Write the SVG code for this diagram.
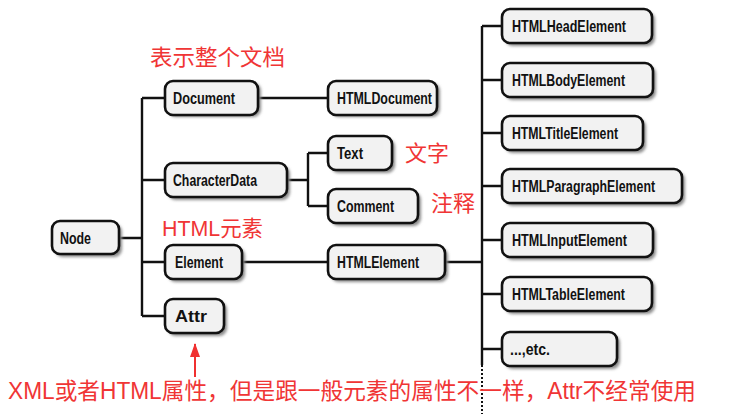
<svg xmlns="http://www.w3.org/2000/svg" width="738" height="414" viewBox="0 0 738 414">
<defs>
<filter id="sh" x="-20%" y="-30%" width="150%" height="180%">
<feGaussianBlur stdDeviation="1.5"/>
</filter>
<marker id="ah" markerWidth="14" markerHeight="10" refX="13" refY="5" orient="auto" markerUnits="userSpaceOnUse" viewBox="0 0 14 10">
<path d="M0,0 L14,5 L0,10 Z" fill="#f03030"/>
</marker>
<style>
.shadow{fill:#8a8a8a;filter:url(#sh);}
.box{fill:#f2f2f2;stroke:#111;stroke-width:2.6;}
.lbl{font-family:"Liberation Sans","DejaVu Sans",sans-serif;font-weight:bold;font-size:16px;fill:#111;}
.con{stroke:#111;stroke-width:2.4;fill:none;}
.red{font-family:"Liberation Sans","Noto Sans CJK SC",sans-serif;fill:#f03535;}
</style>
</defs>
<g id="connectors">
<path class="con" d="M120,238 H142 M142,98 V316 M142,98 H165 M142,180 H165 M142,262 H165 M142,316 H165"/>
<path class="con" d="M258,98 H328"/>
<path class="con" d="M287,180 H308 M308,153 V206 M308,153 H328 M308,206 H328"/>
<path class="con" d="M242,262 H328 M445,262 H482"/>
<path class="con" d="M482,26 V365 M482,26 H502 M482,80 H502 M482,133 H502 M482,186 H502 M482,240 H502 M482,294 H502 M482,349 H502"/>
<path d="M482,365 V414" stroke="#111" stroke-width="2" stroke-dasharray="2,2" fill="none"/>
</g>
<g id="node-Node"><rect class="shadow" x="55" y="224" width="67" height="33" rx="8"/><rect class="box" x="52" y="221" width="67" height="33" rx="8"/><text class="lbl" x="60" y="243.5" textLength="31" lengthAdjust="spacingAndGlyphs">Node</text></g>
<g id="node-Document"><rect class="shadow" x="168" y="83" width="93" height="34" rx="8"/><rect class="box" x="165" y="81" width="93" height="34" rx="8"/><text class="lbl" x="173" y="104" textLength="62" lengthAdjust="spacingAndGlyphs">Document</text></g>
<g id="node-CharacterData"><rect class="shadow" x="168" y="166" width="122" height="34" rx="8"/><rect class="box" x="165" y="163" width="122" height="34" rx="8"/><text class="lbl" x="173" y="186" textLength="84" lengthAdjust="spacingAndGlyphs">CharacterData</text></g>
<g id="node-Element"><rect class="shadow" x="168" y="248" width="77" height="34" rx="8"/><rect class="box" x="165" y="245" width="77" height="34" rx="8"/><text class="lbl" x="175" y="268" textLength="48" lengthAdjust="spacingAndGlyphs">Element</text></g>
<g id="node-Attr"><rect class="shadow" x="168" y="302" width="59" height="34" rx="8"/><rect class="box" x="165" y="299" width="59" height="34" rx="8"/><text class="lbl" x="175" y="322" textLength="32" lengthAdjust="spacingAndGlyphs">Attr</text></g>
<g id="node-HTMLDocument"><rect class="shadow" x="331" y="83" width="109" height="34" rx="8"/><rect class="box" x="328" y="81" width="109" height="34" rx="8"/><text class="lbl" x="337" y="104" textLength="95" lengthAdjust="spacingAndGlyphs">HTMLDocument</text></g>
<g id="node-Text"><rect class="shadow" x="331" y="139" width="64" height="34" rx="8"/><rect class="box" x="328" y="136" width="64" height="34" rx="8"/><text class="lbl" x="337" y="159" textLength="26" lengthAdjust="spacingAndGlyphs">Text</text></g>
<g id="node-Comment"><rect class="shadow" x="331" y="192" width="90" height="34" rx="8"/><rect class="box" x="328" y="189" width="90" height="34" rx="8"/><text class="lbl" x="337" y="212" textLength="57" lengthAdjust="spacingAndGlyphs">Comment</text></g>
<g id="node-HTMLElement"><rect class="shadow" x="331" y="248" width="117" height="34" rx="8"/><rect class="box" x="328" y="245" width="117" height="34" rx="8"/><text class="lbl" x="337" y="268" textLength="82" lengthAdjust="spacingAndGlyphs">HTMLElement</text></g>
<g id="node-HTMLHeadElement"><rect class="shadow" x="505" y="12" width="150" height="34" rx="8"/><rect class="box" x="502" y="9" width="150" height="34" rx="8"/><text class="lbl" x="512" y="32" textLength="114" lengthAdjust="spacingAndGlyphs">HTMLHeadElement</text></g>
<g id="node-HTMLBodyElement"><rect class="shadow" x="505" y="66" width="151" height="34" rx="8"/><rect class="box" x="502" y="63" width="151" height="34" rx="8"/><text class="lbl" x="512" y="86" textLength="113" lengthAdjust="spacingAndGlyphs">HTMLBodyElement</text></g>
<g id="node-HTMLTitleElement"><rect class="shadow" x="505" y="119" width="141" height="34" rx="8"/><rect class="box" x="502" y="116" width="141" height="34" rx="8"/><text class="lbl" x="512" y="139" textLength="106" lengthAdjust="spacingAndGlyphs">HTMLTitleElement</text></g>
<g id="node-HTMLParagraphElement"><rect class="shadow" x="505" y="172" width="180" height="34" rx="8"/><rect class="box" x="502" y="169" width="180" height="34" rx="8"/><text class="lbl" x="512" y="192" textLength="143" lengthAdjust="spacingAndGlyphs">HTMLParagraphElement</text></g>
<g id="node-HTMLInputElement"><rect class="shadow" x="505" y="226" width="151" height="34" rx="8"/><rect class="box" x="502" y="223" width="151" height="34" rx="8"/><text class="lbl" x="512" y="246" textLength="115" lengthAdjust="spacingAndGlyphs">HTMLInputElement</text></g>
<g id="node-HTMLTableElement"><rect class="shadow" x="505" y="280" width="150" height="34" rx="8"/><rect class="box" x="502" y="277" width="150" height="34" rx="8"/><text class="lbl" x="512" y="300" textLength="113" lengthAdjust="spacingAndGlyphs">HTMLTableElement</text></g>
<g id="node-etc"><rect class="shadow" x="505" y="335" width="115" height="34" rx="8"/><rect class="box" x="502" y="332" width="115" height="34" rx="8"/><text class="lbl" x="510" y="355" textLength="40" lengthAdjust="spacingAndGlyphs">...,etc.</text></g>
<g id="annotations">
<text class="red" x="150" y="65" font-size="22" textLength="135" lengthAdjust="spacingAndGlyphs">表示整个文档</text>
<text class="red" x="405" y="161" font-size="22" textLength="44" lengthAdjust="spacingAndGlyphs">文字</text>
<text class="red" x="431" y="211" font-size="22" textLength="44" lengthAdjust="spacingAndGlyphs">注释</text>
<text class="red" x="162" y="236" font-size="22" textLength="101" lengthAdjust="spacingAndGlyphs">HTML元素</text>
<text class="red" x="8" y="399" font-size="23" textLength="688" lengthAdjust="spacingAndGlyphs">XML或者HTML属性，但是跟一般元素的属性不一样，Attr不经常使用</text>
<line x1="195" y1="377" x2="195" y2="344" stroke="#f03030" stroke-width="2" marker-end="url(#ah)"/>
</g>
</svg>
